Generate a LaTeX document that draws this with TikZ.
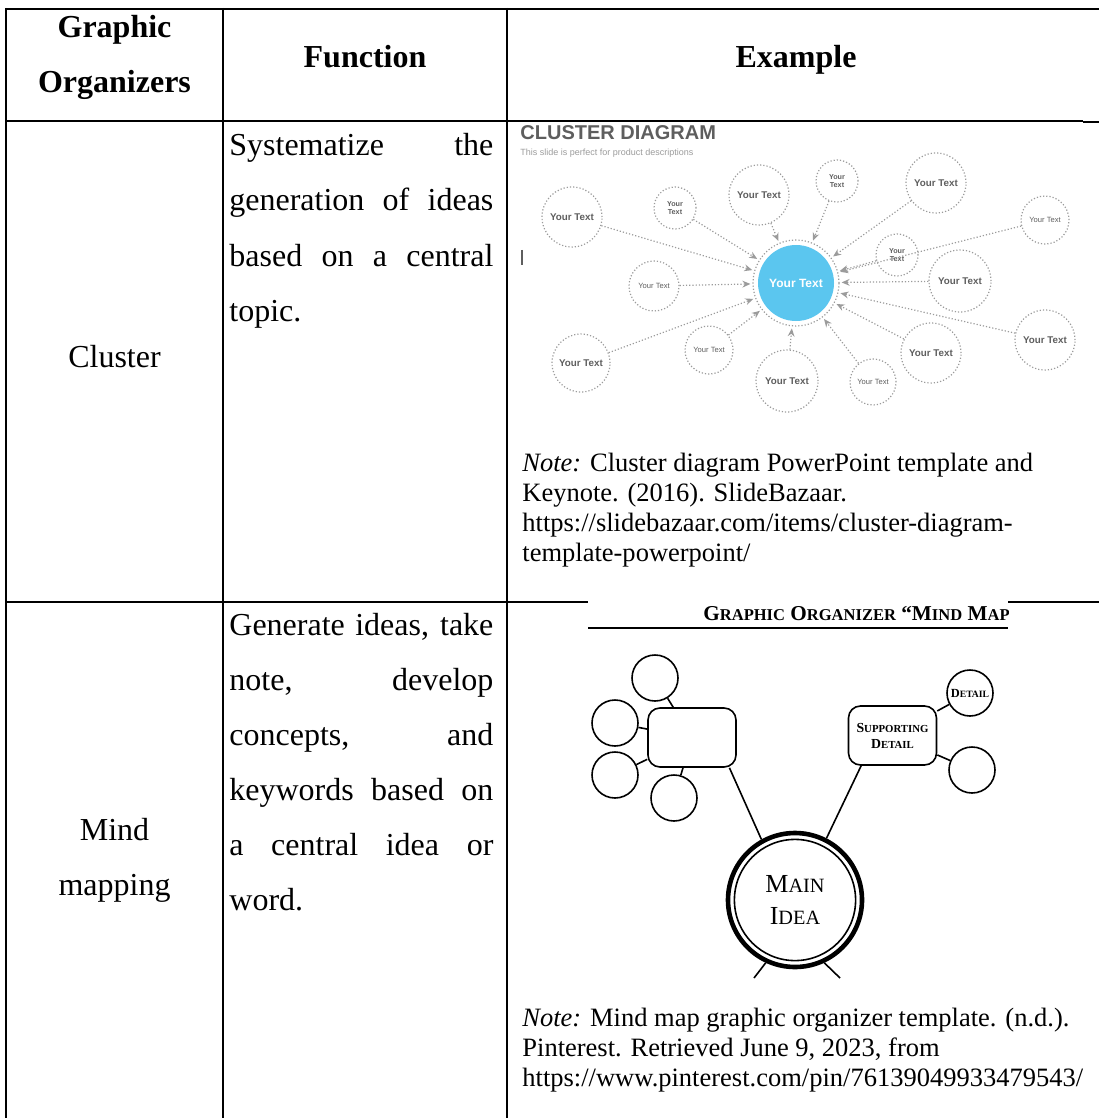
\documentclass[tikz,border=0pt]{standalone}
\usepackage{fontspec}
\setmainfont{Liberation Serif}
\setsansfont{Liberation Sans}
\usepackage{graphicx}
\usetikzlibrary{positioning,arrows.meta}

\definecolor{hubblue}{HTML}{5BC6EF}
\definecolor{dotgray}{HTML}{9B9B9B}
\definecolor{inkgray}{HTML}{5E5E5E}
\newcommand{\fsc}[2]{#1\scalebox{0.78}{#2}}
\newcommand{\js}[1]{\makebox[132pt][s]{#1}}

\tikzset{
  rule/.style={line width=1.4pt},
  thinrule/.style={line width=0.6pt},
  headtxt/.style={inner sep=0pt, align=center, anchor=base, font=\fontsize{16}{27.5}\selectfont\bfseries},
  bodytxt/.style={inner sep=0pt, align=center, anchor=base, font=\fontsize{16}{27.5}\selectfont},
  fntxt/.style={inner sep=0pt, align=left, anchor=base west, font=\fontsize{16}{27.5}\selectfont},
  notetxt/.style={inner sep=0pt, align=left, anchor=base west, font=\fontsize{13.25}{15}\selectfont},
  bubble/.style={circle, draw=dotgray, densely dotted, line width=0.6pt, inner sep=0pt, align=center, text=inkgray, font=\sffamily\bfseries\fontsize{4.9}{5.5}\selectfont},
  smallbub/.style={bubble, font=\sffamily\fontsize{3.8}{4.4}\selectfont},
  pairbub/.style={bubble, font=\sffamily\bfseries\fontsize{3.6}{4.2}\selectfont},
  feed/.style={draw=dotgray, densely dotted, line width=0.6pt, -{Stealth[length=4pt,width=3.4pt]}, shorten >=1pt},
  mmcirc/.style={circle, draw, line width=0.8pt, minimum size=23pt, inner sep=0pt, font=\bfseries\fontsize{6.2}{7}\selectfont},
  mmbox/.style={draw, rounded corners=6pt, line width=0.8pt, minimum width=44pt, minimum height=29.5pt, inner sep=0pt, align=center, font=\bfseries\fontsize{6.9}{8}\selectfont},
  mmlink/.style={line width=0.8pt}
}

\begin{document}
\begin{tikzpicture}[x=0.5pt,y=-0.5pt]
\useasboundingbox (0,0) rectangle (1099,1118);

\draw[rule] (6,9) -- (1099,9);
\draw[rule] (6,8) -- (6,1118);
\draw[rule] (223,8) -- (223,1118);
\draw[rule] (507,8) -- (507,1118);
\draw[rule] (6,121) -- (512,121);
\draw[thinrule] (512,121) -- (1083,121);
\draw[rule] (1083,122) -- (1099,122);
\draw[rule] (6,602) -- (588,602);
\draw[rule] (1008,602) -- (1099,602);

% header row (anchor base = last line)
\node[headtxt] (hgo) at (114.5,93) {Graphic\\Organizers};
\node[headtxt] (hfn) at (365,68) {Function};
\node[headtxt] (hex) at (796,68) {Example};

\node[bodytxt] (rclus) at (114.5,367) {Cluster};
\node[bodytxt] (rmind) at (114.5,895) {Mind\\mapping};
\node[fntxt] (fclus) at (229,321) {\js{Systematize the}\\\js{generation of ideas}\\\js{based on a central}\\topic.};
\node[fntxt] (fmind) at (229,910) {\js{Generate ideas, take}\\\js{note, develop}\\\js{concepts, and}\\\js{keywords based on}\\\js{a central idea or}\\word.};

\node[notetxt] (nclus) at (522,561) {\textit{Note:} Cluster diagram PowerPoint template and\\Keynote. (2016). SlideBazaar.\\https://slidebazaar.com/items/cluster-diagram-\\template-powerpoint/};
\node[notetxt] (nmind) at (522,1086) {\textit{Note:} Mind map graphic organizer template. (n.d.).\\Pinterest. Retrieved June 9, 2023, from\\https://www.pinterest.com/pin/76139049933479543/};

% cluster diagram
\node[anchor=base west, inner sep=0pt, text=inkgray, font=\sffamily\bfseries\fontsize{10}{12}\selectfont] (ctitle) at (520,140) {CLUSTER DIAGRAM};
\node[anchor=base west, inner sep=0pt, text=dotgray, font=\sffamily\fontsize{4.5}{5}\selectfont] (csub) at (520,156) {This slide is perfect for product descriptions};
\draw[inkgray, line width=1pt] (522,250) -- (522,265);

\node[circle, draw=dotgray, densely dotted, line width=0.6pt, minimum size=43pt] (hubring) at (796,283) {};
\node[circle, fill=hubblue, minimum size=38pt, inner sep=0pt, text=white, font=\sffamily\bfseries\fontsize{6}{7}\selectfont] (hub) at (796,283) {Your Text};
\node[bubble, minimum size=30pt] (b1) at (572,217) {Your Text};
\node[pairbub, minimum size=21pt] (b2) at (675,208) {Your\\Text};
\node[bubble, minimum size=30pt] (b3) at (759,195) {Your Text};
\node[pairbub, minimum size=21pt] (b4) at (837,181) {Your\\Text};
\node[bubble, minimum size=30pt] (b5) at (936,183) {Your Text};
\node[smallbub, minimum size=24pt] (b6) at (1045,220) {Your Text};
\node[pairbub, minimum size=21pt] (b7) at (897,255) {Your\\Text};
\node[bubble, minimum size=31pt] (b8) at (960,281) {Your Text};
\node[smallbub, minimum size=25pt] (b9) at (654,286) {Your Text};
\node[bubble, minimum size=30pt] (b10) at (1045,340) {Your Text};
\node[bubble, minimum size=29pt] (b11) at (581,363) {Your Text};
\node[smallbub, minimum size=24pt] (b12) at (709,350) {Your Text};
\node[bubble, minimum size=31pt] (b13) at (787,381) {Your Text};
\node[smallbub, minimum size=23pt] (b14) at (873,382) {Your Text};
\node[bubble, minimum size=30pt] (b15) at (931,353) {Your Text};
\foreach \n in {1,...,15}
  \draw[feed] (b\n) -- (hubring);

% mind map
\begin{scope}
\clip (588,560) rectangle (1008,640);
\node[anchor=base west, inner sep=0pt, font=\bfseries\fontsize{10.6}{13}\selectfont] (mtitle) at (703,620) {\fsc{G}{RAPHIC} \fsc{O}{RGANIZER} ``\fsc{M}{IND} \fsc{M}{AP}''};
\end{scope}
\draw[thinrule] (588,628) -- (1008,628);

\node[mmcirc] (mtop) at (655,678) {};
\node[mmcirc] (mleft) at (615,723) {};
\node[mmcirc] (mlow) at (615,775) {};
\node[mmcirc] (mbot) at (674,798) {};
\node[mmbox] (mbox) at (692,737.5) {};
\node[mmbox] (sbox) at (892.5,735.5) {\fsc{S}{UPPORTING}\\\fsc{D}{ETAIL}};
\node[mmcirc] (mdet) at (970,693) {\fsc{D}{ETAIL}};
\node[mmcirc] (mdet2) at (972,770) {};
\node[circle, draw, line width=2.3pt, minimum size=67pt, inner sep=0pt, align=center, font=\fontsize{13}{16}\selectfont] (mainidea) at (795,900) {\fsc{M}{AIN}\\\fsc{I}{DEA}};
\draw[line width=0.8pt] (mainidea.center) circle[radius=30.3pt];

\draw[mmlink] (mtop) -- (mbox);
\draw[mmlink] (mleft) -- (mbox);
\draw[mmlink] (mlow) -- (mbox);
\draw[mmlink] (mbot) -- (mbox);
\draw[mmlink] (sbox) -- (mdet);
\draw[mmlink] (sbox) -- (mdet2);
\draw[mmlink] (mbox.-39) -- (mainidea.119);
\draw[mmlink] (sbox.-136) -- (mainidea.63);
\coordinate (stubl) at (754,978);
\coordinate (stubr) at (840,978);
\draw[mmlink] (mainidea.-115) -- (stubl);
\draw[mmlink] (mainidea.-65) -- (stubr);
\end{tikzpicture}
\end{document}
